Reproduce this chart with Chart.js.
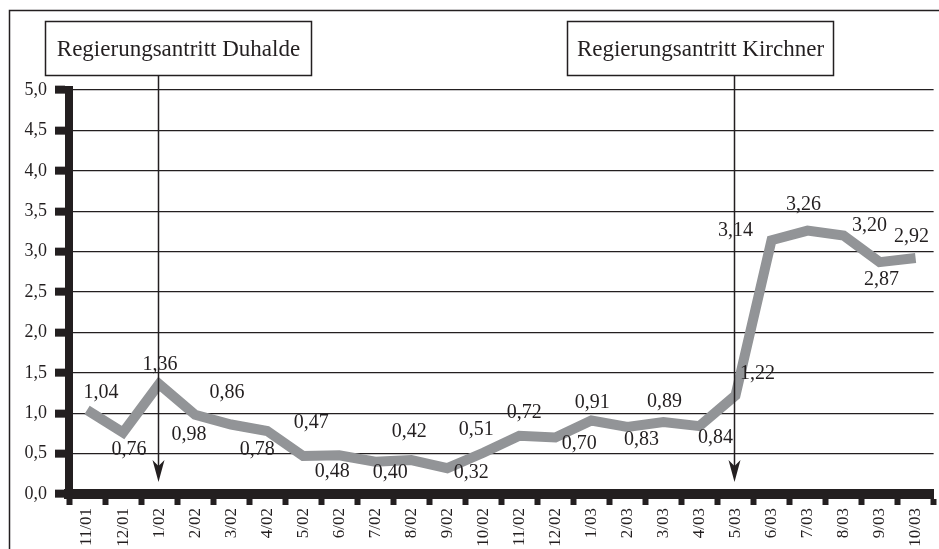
<!DOCTYPE html>
<html>
<head>
    <title>Regierungsantritt Duhalde / Kirchner</title>
    <meta charset="utf-8" />
    <script src="https://cdn.jsdelivr.net/npm/chart.js"></script>
    <style>
        html, body {
            margin: 0;
            padding: 0;
            background: white;
            overflow: hidden;
        }
        canvas {
            display: block;
        }
    </style>
</head>
<body>
    <canvas id="grafico" width="939" height="549"></canvas>

    <script>
        const meses = ["11/01", "12/01", "1/02", "2/02", "3/02", "4/02", "5/02", "6/02", "7/02", "8/02", "9/02", "10/02",
                       "11/02", "12/02", "1/03", "2/03", "3/03", "4/03", "5/03", "6/03", "7/03", "8/03", "9/03", "10/03"];
        const valores = [1.04, 0.76, 1.36, 0.98, 0.86, 0.78, 0.47, 0.48, 0.40, 0.42, 0.32, 0.51,
                         0.72, 0.70, 0.91, 0.83, 0.89, 0.84, 1.22, 3.14, 3.26, 3.20, 2.87, 2.92];
        const ticksY = [0, 0.5, 1, 1.5, 2, 2.5, 3, 3.5, 4, 4.5, 5];
        const eventos = [
            { mes: "1/02", texto: "Regierungsantritt Duhalde" },
            { mes: "5/03", texto: "Regierungsantritt Kirchner" }
        ];

        // donde va cada etiqueta respecto al punto (px)
        const desplaz = [[14, -17], [6, 17], [1, -19], [-6, 20], [-4, -32], [-10, 19], [8, -33], [-7, 17],
                         [15, 11], [-2, -28], [24, 5], [-7, -23], [5, -23], [24, 6], [1, -18], [14, 13],
                         [1, -20], [16, 12], [22, -22], [-36, -10], [-4, -26], [26, -10], [2, 18], [-4, -21]];
        const cajaX = [45, 567];
        const cajaW = 266;

        const oscuro = "#231f20";
        const serif = "'Liberation Serif', 'DejaVu Serif', serif";
        const coma = (v, d) => v.toFixed(d).replace(".", ",");

        const extras = {
            id: "extras",
            beforeDraw(chart) {
                const c = chart.ctx;
                c.save();
                c.fillStyle = "white";
                c.fillRect(0, 0, chart.width, chart.height);
                c.strokeStyle = oscuro;
                c.lineWidth = 1.5;
                c.strokeRect(9.5, 10.5, 960, 600);
                c.restore();
            },
            afterDatasetsDraw(chart) {
                const c = chart.ctx;
                const x = chart.scales.x, y = chart.scales.y;
                c.save();

                // etiquetas de valores
                c.fillStyle = oscuro;
                c.font = "20px " + serif;
                c.textAlign = "center";
                c.textBaseline = "middle";
                valores.forEach((v, i) => {
                    const px = x.getPixelForValue(i);
                    const py = y.getPixelForValue(v);
                    c.fillText(coma(v, 2), px + desplaz[i][0], py + desplaz[i][1]);
                });

                // cajas y flechas
                eventos.forEach((ev, k) => {
                    const px = Math.round(x.getPixelForValue(meses.indexOf(ev.mes))) - 0.5;
                    c.font = "23px " + serif;
                    const bx = cajaX[k] + 0.5, by = 21.5, bh = 54;
                    c.strokeStyle = oscuro;
                    c.lineWidth = 1.5;
                    c.strokeRect(bx, by, cajaW, bh);
                    c.fillText(ev.texto, bx + cajaW / 2, by + bh / 2 + 1);

                    const fin = chart.chartArea.bottom - 12;
                    c.beginPath();
                    c.moveTo(px, by + bh);
                    c.lineTo(px, fin - 16);
                    c.stroke();
                    c.beginPath();
                    c.moveTo(px, fin);
                    c.lineTo(px - 6, fin - 22);
                    c.lineTo(px, fin - 16);
                    c.lineTo(px + 6, fin - 22);
                    c.closePath();
                    c.fill();
                });
                c.restore();
            }
        };

        const chart = new Chart(document.getElementById("grafico"), {
            type: "line",
            data: {
                labels: meses,
                datasets: [{
                    data: valores,
                    borderColor: "#929497",
                    borderWidth: 10,
                    borderJoinStyle: "miter",
                    borderCapStyle: "butt",
                    pointRadius: 0,
                    tension: 0
                }]
            },
            options: {
                responsive: false,
                animation: false,
                devicePixelRatio: 1,
                layout: { padding: { top: 90, right: 0, left: 0, bottom: 0 } },
                plugins: {
                    legend: { display: false },
                    tooltip: { enabled: false }
                },
                scales: {
                    x: {
                        offset: true,
                        grid: {
                            drawOnChartArea: false,
                            offset: true,
                            tickLength: 11,
                            tickWidth: 6,
                            tickColor: oscuro
                        },
                        border: { display: true, width: 10, color: oscuro },
                        ticks: {
                            autoSkip: false,
                            minRotation: 90,
                            maxRotation: 90,
                            padding: 3,
                            color: oscuro,
                            font: { family: serif, size: 17 }
                        },
                        afterFit(scale) { scale.height = 55; }
                    },
                    y: {
                        min: 0,
                        max: 5,
                        afterBuildTicks(scale) { scale.ticks = ticksY.map(v => ({ value: v })); },
                        grid: {
                            color: oscuro,
                            lineWidth: 1.3,
                            tickLength: 14,
                            tickWidth: 8,
                            tickColor: oscuro
                        },
                        border: { display: true, width: 8, color: oscuro },
                        ticks: {
                            padding: 8,
                            color: oscuro,
                            font: { family: serif, size: 18 },
                            callback: v => coma(v, 1)
                        },
                        afterFit(scale) { scale.width = 69; }
                    }
                }
            },
            plugins: [extras]
        });
    </script>
</body>
</html>
